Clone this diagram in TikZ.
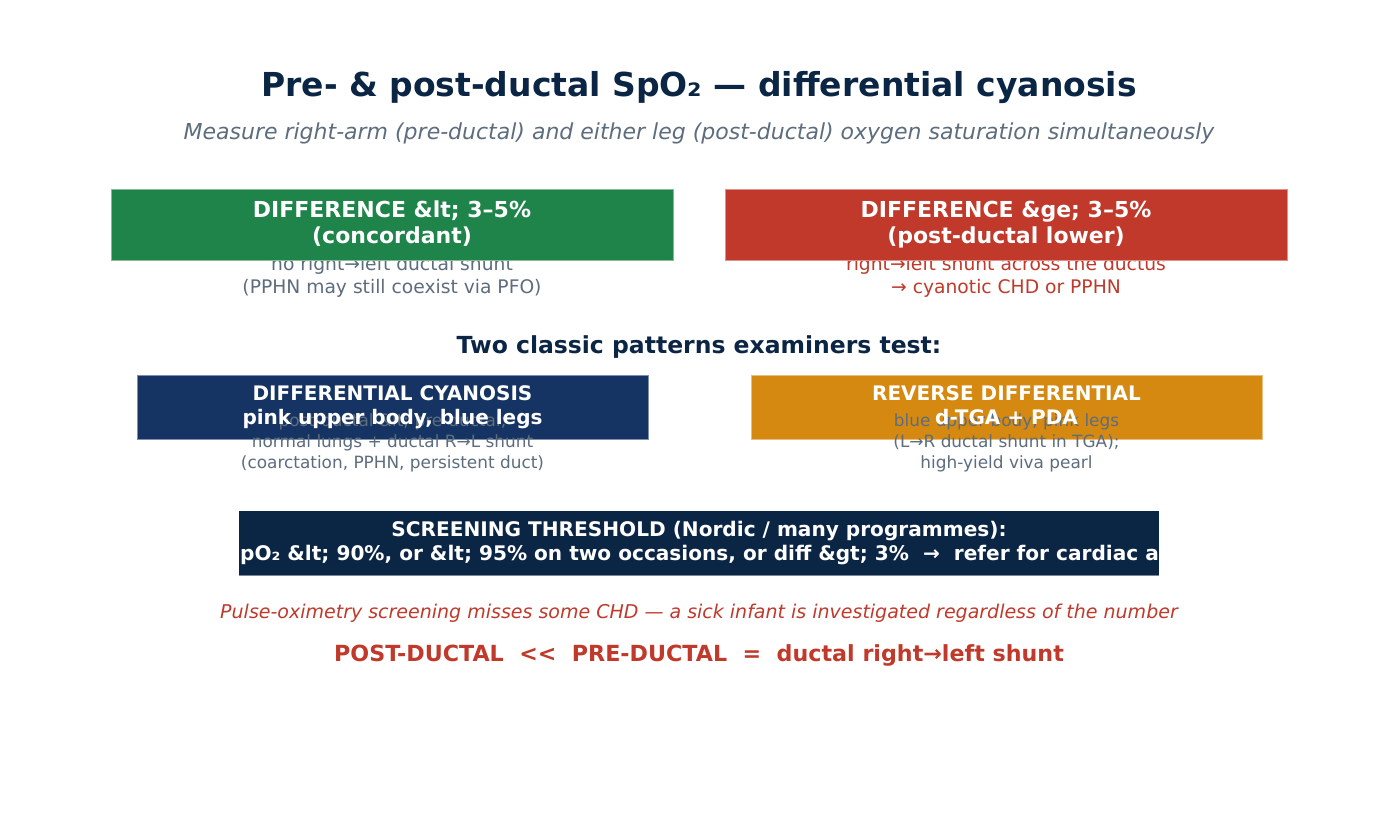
\documentclass[tikz,border=0pt]{standalone}
\usepackage{fontspec}
\setmainfont{DejaVu Sans}
\definecolor{navy}{HTML}{0B2545}
\definecolor{greytxt}{HTML}{5D6D7E}
\definecolor{okgreen}{HTML}{1E8449}
\definecolor{alertred}{HTML}{C0392B}
\definecolor{boxnavy}{HTML}{163463}
\definecolor{amber}{HTML}{D68910}
\definecolor{screen}{HTML}{0B2545}
\begin{document}
\begin{tikzpicture}[x=1pt,y=-1pt,
  lbl/.style={anchor=base, inner sep=0pt, align=center},
  ]
\useasboundingbox[fill=white] (0,0) rectangle (1398,836);

% title
\node[lbl, text=navy, font=\fontsize{33}{40}\selectfont\bfseries] (title) at (699,96) {Pre- \& post-ductal SpO₂ — differential cyanosis};
\node[lbl, text=greytxt, font=\fontsize{22}{26}\selectfont\itshape] (sub) at (699,139) {Measure right-arm (pre-ductal) and either leg (post-ductal) oxygen saturation simultaneously};

% top row: sub texts first (covered by boxes)
\node[lbl, text=greytxt, font=\fontsize{18.7}{23}\selectfont] (gsub) at (392,293.5) {no right→left ductal shunt\\(PPHN may still coexist via PFO)};
\node[lbl, text=alertred, font=\fontsize{18.7}{23}\selectfont] (rsub) at (1006,293.5) {right→left shunt across the ductus\\→ cyanotic CHD or PPHN};

\fill[okgreen] (111,189) rectangle (673,260);
\draw[okgreen!55!white, line width=0.8pt] (111,189) rectangle (673,260);
\fill[alertred] (725,189) rectangle (1287,260);
\draw[alertred!55!white, line width=0.8pt] (725,189) rectangle (1287,260);

\node[lbl, text=white, font=\fontsize{22}{26}\selectfont\bfseries] (gbox) at (392,243.5) {DIFFERENCE \&lt; 3–5\%\\(concordant)};
\node[lbl, text=white, font=\fontsize{22}{26}\selectfont\bfseries] (rbox) at (1006,243.5) {DIFFERENCE \&ge; 3–5\%\\(post-ductal lower)};

% middle heading
\node[lbl, text=navy, font=\fontsize{23.5}{28}\selectfont\bfseries] (two) at (699,353) {Two classic patterns examiners test:};

% lower row
\fill[boxnavy] (137,375) rectangle (648,439);
\draw[boxnavy!55!white, line width=0.8pt] (137,375) rectangle (648,439);
\fill[amber] (751,375) rectangle (1262,439);
\draw[amber!55!white, line width=0.8pt] (751,375) rectangle (1262,439);

\node[lbl, text=greytxt, font=\fontsize{16.9}{21}\selectfont] (dsub) at (392.5,468) {post-ductal \&lt; pre-ductal;\\normal lungs + ductal R→L shunt\\(coarctation, PPHN, persistent duct)};
\node[lbl, text=greytxt, font=\fontsize{16.9}{21}\selectfont] (rvsub) at (1006.5,468) {blue upper body, pink legs\\(L→R ductal shunt in TGA);\\high-yield viva pearl};

\node[lbl, text=white, font=\fontsize{20}{24}\selectfont\bfseries] (dbox) at (392.5,424) {DIFFERENTIAL CYANOSIS\\pink upper body, blue legs};
\node[lbl, text=white, font=\fontsize{20}{24}\selectfont\bfseries] (rvbox) at (1006.5,424) {REVERSE DIFFERENTIAL\\d-TGA + PDA};

% screening
\fill[screen] (239,511) rectangle (1159,575);
\draw[screen!55!white, line width=0.8pt] (239,575) -- (1159,575);
\begin{scope}
\clip (239,511) rectangle (1159,575);
\node[lbl, text=white, font=\fontsize{20.1}{24}\selectfont\bfseries] (scr1) at (699,536.5) {SCREENING THRESHOLD (Nordic / many programmes):};
\node[lbl, anchor=base west, text=white, font=\fontsize{20.1}{24}\selectfont\bfseries] (scr2) at (225.5,560.5) {SpO₂ \&lt; 90\%, or \&lt; 95\% on two occasions, or diff \&gt; 3\%~~→~~refer for cardiac assessment};
\end{scope}

% bottom
\node[lbl, text=alertred, font=\fontsize{19}{22}\selectfont\itshape] (miss) at (699,618) {Pulse-oximetry screening misses some CHD — a sick infant is investigated regardless of the number};
\node[lbl, text=alertred, font=\fontsize{22.2}{26}\selectfont\bfseries] (rule) at (699,661) {POST-DUCTAL~~<{}<~~PRE-DUCTAL~~=~~ductal right→left shunt};
\end{tikzpicture}
\end{document}
